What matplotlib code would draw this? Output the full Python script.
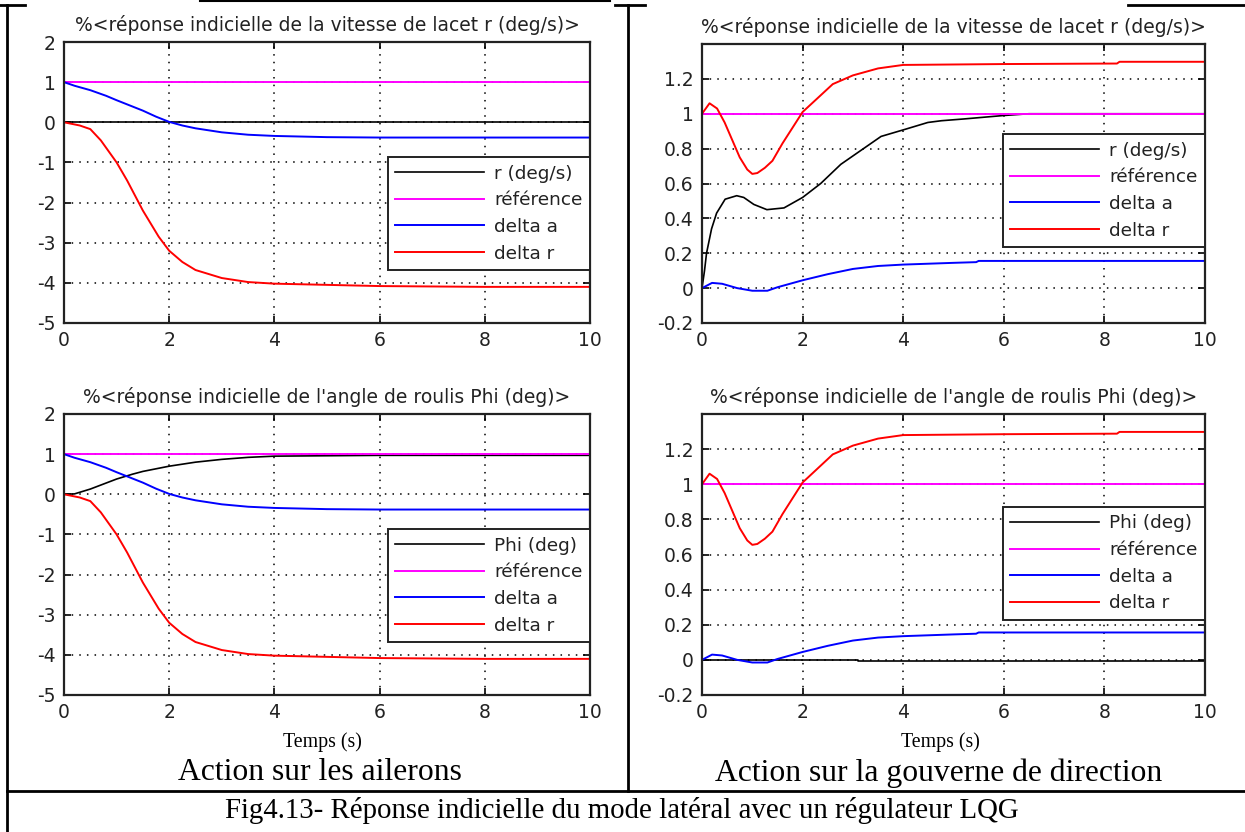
import matplotlib
matplotlib.use('Agg')
import matplotlib.pyplot as plt
from matplotlib.lines import Line2D

plt.rcParams['font.family'] = ['DejaVu Sans']

W, H = 1245, 832

# Action sur les ailerons
t_da_ail = [0, 0.2, 0.5, 0.8, 1.0, 1.25, 1.5, 1.75, 2.0, 2.25, 2.5, 3.0, 3.5, 4.0, 5.0, 6.0, 8.0, 10.0]
da_ail = [1.0, 0.91, 0.8, 0.66, 0.55, 0.42, 0.29, 0.14, 0.01, -0.08, -0.15, -0.25, -0.31, -0.34, -0.37,
          -0.38, -0.38, -0.38]
t_dr_ail = [0, 0.3, 0.5, 0.7, 1.0, 1.2, 1.5, 1.8, 2.0, 2.25, 2.5, 3.0, 3.5, 4.0, 5.0, 6.0, 8.0, 10.0]
dr_ail = [0, -0.08, -0.17, -0.45, -1.0, -1.45, -2.2, -2.85, -3.2, -3.48, -3.68, -3.88, -3.98, -4.02, -4.05,
          -4.08, -4.1, -4.1]
t_r_ail = [0, 10]
r_ail = [0, 0]
t_phi_ail = [0, 0.2, 0.5, 1.0, 1.3, 1.5, 2.0, 2.5, 3.0, 3.5, 4.0, 5.0, 6.0, 8.0, 10.0]
phi_ail = [0, 0.01, 0.13, 0.38, 0.5, 0.57, 0.7, 0.8, 0.87, 0.92, 0.95, 0.96, 0.97, 0.97, 0.97]

# Action sur la gouverne de direction
t_dr_rud = [0, 0.15, 0.3, 0.45, 0.6, 0.75, 0.9, 1.0, 1.1, 1.25, 1.4, 1.6, 1.8, 2.0, 2.3, 2.6, 3.0, 3.5, 4.0,
            6.0, 8.25, 8.3, 10.0]
dr_rud = [1.0, 1.06, 1.03, 0.95, 0.85, 0.75, 0.68, 0.655, 0.66, 0.69, 0.73, 0.83, 0.92, 1.01, 1.09, 1.17, 1.22,
          1.26, 1.28, 1.285, 1.288, 1.298, 1.298]
t_da_rud = [0, 0.2, 0.4, 0.7, 1.0, 1.3, 1.5, 2.0, 2.5, 3.0, 3.5, 4.0, 5.0, 5.45, 5.5, 10.0]
da_rud = [0, 0.03, 0.025, 0.0, -0.015, -0.015, 0.005, 0.045, 0.08, 0.11, 0.127, 0.135, 0.145, 0.149, 0.156, 0.156]
t_r_rud = [0, 0.05, 0.09, 0.19, 0.29, 0.46, 0.69, 0.83, 1.03, 1.29, 1.63, 2.0, 2.36, 2.76, 3.16, 3.56, 4.03,
           4.49, 4.76, 5.2, 6.0, 6.5, 10.0]
r_rud = [0, 0.1, 0.2, 0.34, 0.43, 0.51, 0.53, 0.52, 0.48, 0.45, 0.46, 0.52, 0.6, 0.71, 0.79, 0.87, 0.91, 0.95,
         0.96, 0.97, 0.99, 1.0, 1.0]
t_phi_rud = [0, 3.1, 3.1, 10.0]
phi_rud = [0, 0, -0.008, -0.008]

t_ref = [0, 10]
ref = [1, 1]

title_r = "%<réponse indicielle de la vitesse de lacet r (deg/s)>"
title_phi = "%<réponse indicielle de l'angle de roulis Phi (deg)>"


def px_axes(fig, x0, y0, x1, y1):
    return fig.add_axes([x0 / W, 1 - y1 / H, (x1 - x0) / W, (y1 - y0) / H])


def draw(ax, first, first_label, t_first, da_t, da, dr_t, dr, ylim, yticks, yticklabels, title, leg_top):
    ax.plot(t_first, first, color='black', lw=1.2, label=first_label)
    ax.plot(t_ref, ref, color='#ff00ff', lw=1.4, label='référence')
    ax.plot(da_t, da, color='#0000ff', lw=1.4, label='delta a')
    ax.plot(dr_t, dr, color='#ff0000', lw=1.4, label='delta r')
    ax.set_xlim(0, 10)
    ax.set_ylim(*ylim)
    ax.set_xticks([0, 2, 4, 6, 8, 10])
    ax.set_xticklabels(['0', '2', '4', '6', '8', '10'])
    ax.set_yticks(yticks)
    ax.set_yticklabels(yticklabels)
    ax.grid(True, linestyle=(0, (1, 4)), color='black', lw=1.1)
    ax.tick_params(direction='in', length=5, width=1.2, top=True, right=True, labelsize=13.5, pad=6,
                   colors='black', labelcolor='#222222')
    for s in ax.spines.values():
        s.set_linewidth(1.6)
        s.set_color('#222222')
    ax.set_title(title, fontsize=13.5, pad=8, color='#222222')
    leg = ax.legend(loc='upper right', bbox_to_anchor=(1.0, leg_top), borderaxespad=0, fontsize=13.3,
                    handlelength=4.8, handletextpad=0.55, labelspacing=0.47, borderpad=0.4,
                    fancybox=False, framealpha=1, edgecolor='#222222')
    leg.get_frame().set_linewidth(1.4)
    for txt in leg.get_texts():
        txt.set_color('#222222')


fig = plt.figure(figsize=(W / 100, H / 100), dpi=100)

yl = [-5, -4, -3, -2, -1, 0, 1, 2]
yr = [-0.2, 0, 0.2, 0.4, 0.6, 0.8, 1, 1.2]
yr_lab = ['-0.2', '0', '0.2', '0.4', '0.6', '0.8', '1', '1.2']

ax1 = px_axes(fig, 64, 42, 590, 323)
draw(ax1, r_ail, 'r (deg/s)', t_r_ail, t_da_ail, da_ail, t_dr_ail, dr_ail, (-5, 2), yl,
     [str(v) for v in yl], title_r, 0.59)

ax2 = px_axes(fig, 702, 44, 1205, 323)
draw(ax2, r_rud, 'r (deg/s)', t_r_rud, t_da_rud, da_rud, t_dr_rud, dr_rud, (-0.2, 1.4), yr,
     yr_lab, title_r, 0.677)

ax3 = px_axes(fig, 64, 414, 590, 695)
draw(ax3, phi_ail, 'Phi (deg)', t_phi_ail, t_da_ail, da_ail, t_dr_ail, dr_ail, (-5, 2), yl,
     [str(v) for v in yl], title_phi, 0.59)

ax4 = px_axes(fig, 702, 414, 1205, 695)
draw(ax4, phi_rud, 'Phi (deg)', t_phi_rud, t_da_rud, da_rud, t_dr_rud, dr_rud, (-0.2, 1.4), yr,
     yr_lab, title_phi, 0.669)

# texte sous les graphes
serif = 'Liberation Serif'
fig.text(322 / W, 1 - 742 / H, 'Temps (s)', family=serif, fontsize=14.3, ha='center', va='center')
fig.text(940 / W, 1 - 742 / H, 'Temps (s)', family=serif, fontsize=14.3, ha='center', va='center')
fig.text(320 / W, 1 - 773 / H, 'Action sur les ailerons', family=serif, fontsize=22.8, ha='center', va='center')
fig.text(939 / W, 1 - 773 / H, 'Action sur la gouverne de direction', family=serif, fontsize=22.8,
         ha='center', va='center')
fig.text(622 / W, 1 - 811 / H, 'Fig4.13- Réponse indicielle du mode latéral avec un régulateur LQG',
         family=serif, fontsize=20.8, ha='center', va='center')


# cadre du tableau
def hline(x0, x1, y, lw=2):
    fig.add_artist(Line2D([x0 / W, x1 / W], [1 - y / H, 1 - y / H], color='black', lw=lw))


def vline(x, y0, y1, lw=2):
    fig.add_artist(Line2D([x / W, x / W], [1 - y0 / H, 1 - y1 / H], color='black', lw=lw))


vline(7, 5, 832)
vline(628, 5, 791)
hline(7, 1245, 791)
hline(0, 25, 5)
hline(615, 645, 5)
hline(1128, 1245, 5)
hline(200, 610, 1, lw=1.5)

fig.savefig('out.png', dpi=100)
